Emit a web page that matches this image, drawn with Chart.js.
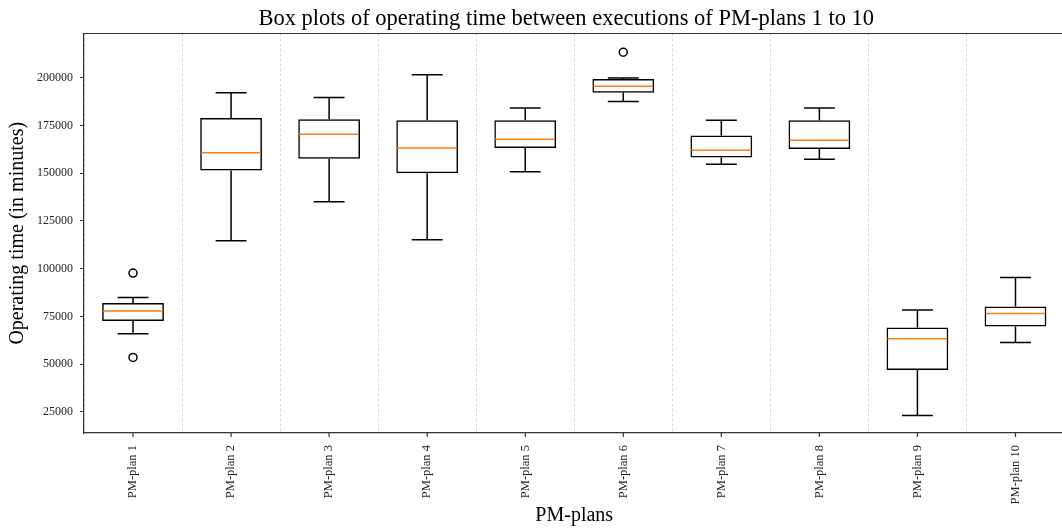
<!DOCTYPE html>
<html>
<head>
<meta charset="utf-8">
<script src="https://cdn.jsdelivr.net/npm/chart.js@4.4.1/dist/chart.umd.min.js"></script>
<style>
	body { margin: 0; overflow: hidden; background: #fff; }
	canvas { display: block; }
</style>
</head>
<body>
<canvas id="boxplot-canvas" width="1070" height="528"></canvas>
<script>
const labels = ["PM-plan 1", "PM-plan 2", "PM-plan 3", "PM-plan 4", "PM-plan 5",
	"PM-plan 6", "PM-plan 7", "PM-plan 8", "PM-plan 9", "PM-plan 10"];

// Five-number summaries per plan (minutes)
const lowerWhisker = [65950, 114590, 134990, 115115, 150680, 187450, 154710, 157320, 23220, 61400];
const firstQuartile = [72600, 151360, 157480, 150000, 163230, 192150, 158160, 162710, 46970, 69770];
const medians = [77820, 160620, 170400, 163230, 167780, 195500, 162030, 167260, 63340, 76570];
const thirdQuartile = [82000, 178920, 178240, 177720, 177720, 199320, 169670, 177720, 69250, 80230];
const upperWhisker = [84940, 192150, 189540, 201570, 184150, 199840, 177720, 184150, 78350, 95400];
const outliers = [[97700, 53560], [], [], [], [], [213280], [], [], [], []];

const yTicks = [25000, 50000, 75000, 100000, 125000, 150000, 175000, 200000];

const chartTitle = "Box plots of operating time between executions of PM-plans 1 to 10";
const serif = "'Liberation Serif', 'Times New Roman', serif";

// Whiskers, caps, medians, tick marks under each box, spines and the title
const boxWhiskers = {
	id: "boxWhiskers",
	afterDatasetsDraw(chart) {
		const ctx = chart.ctx;
		const xScale = chart.scales.x;
		const yScale = chart.scales.y;
		const meta = chart.getDatasetMeta(0);
		ctx.save();
		ctx.lineCap = "butt";
		for (let i = 0; i < labels.length; i++) {
			const bar = meta.data[i];
			const x = bar.x;
			const half = bar.width / 2;
			const cap = bar.width / 4;
			const yLow = yScale.getPixelForValue(lowerWhisker[i]);
			const yQ1 = yScale.getPixelForValue(firstQuartile[i]);
			const yQ3 = yScale.getPixelForValue(thirdQuartile[i]);
			const yHigh = yScale.getPixelForValue(upperWhisker[i]);
			const yMed = yScale.getPixelForValue(medians[i]);

			ctx.strokeStyle = "#000";
			ctx.lineWidth = 1.5;
			ctx.beginPath();
			ctx.moveTo(x, yQ1);
			ctx.lineTo(x, yLow);
			ctx.moveTo(x - cap, yLow);
			ctx.lineTo(x + cap, yLow);
			ctx.moveTo(x, yQ3);
			ctx.lineTo(x, yHigh);
			ctx.moveTo(x - cap, yHigh);
			ctx.lineTo(x + cap, yHigh);
			ctx.stroke();

			ctx.strokeStyle = "#ff7f0e";
			ctx.beginPath();
			ctx.moveTo(x - half + 1, yMed);
			ctx.lineTo(x + half - 1, yMed);
			ctx.stroke();

			// tick mark at the category centre
			const tx = xScale.getPixelForValue(i);
			ctx.strokeStyle = "#333";
			ctx.lineWidth = 1.2;
			ctx.beginPath();
			ctx.moveTo(tx, chart.chartArea.bottom);
			ctx.lineTo(tx, chart.chartArea.bottom + 4);
			ctx.stroke();
		}
		// top and right spines
		const area = chart.chartArea;
		ctx.strokeStyle = "#333";
		ctx.lineWidth = 1.2;
		ctx.beginPath();
		ctx.moveTo(area.left, area.top);
		ctx.lineTo(area.right, area.top);
		ctx.lineTo(area.right, area.bottom);
		ctx.stroke();

		// title centred over the plot area
		ctx.fillStyle = "#000";
		ctx.font = "22.5px " + serif;
		ctx.textAlign = "center";
		ctx.textBaseline = "middle";
		ctx.fillText(chartTitle, (area.left + area.right) / 2 - 8, 19);
		ctx.restore();
	},
};

const outlierPoints = [];
outliers.forEach((list, i) => {
	list.forEach((v) => outlierPoints.push({ x: labels[i], y: v }));
});

new Chart("boxplot-canvas", {
	type: "bar",
	data: {
		labels: labels,
		datasets: [
			{
				data: firstQuartile.map((q, i) => [q, thirdQuartile[i]]),
				backgroundColor: "rgba(0,0,0,0)",
				borderColor: "#000",
				borderWidth: 1.5,
				borderSkipped: false,
				barPercentage: 0.63,
				categoryPercentage: 1,
			},
			{
				type: "line",
				data: outlierPoints,
				showLine: false,
				pointRadius: 4,
				pointBorderWidth: 1.5,
				pointBorderColor: "#000",
				pointBackgroundColor: "rgba(0,0,0,0)",
			},
		],
	},
	options: {
		responsive: false,
		animation: false,
		layout: {
			padding: { left: 0, right: 1, top: 33.5, bottom: 0 },
		},
		plugins: {
			legend: { display: false },
			tooltip: { enabled: false },
		},
		scales: {
			x: {
				offset: true,
				grid: {
					offset: true,
					drawTicks: false,
					color: "rgba(0,0,0,0.18)",
					lineWidth: 0.8,
				},
				border: { color: "#333", width: 1.2, dash: [3, 2] },
				ticks: {
					color: "#222",
					font: { family: serif, size: 12.5 },
					minRotation: 90,
					maxRotation: 90,
					padding: 12,
				},
				title: {
					display: true,
					text: "PM-plans",
					color: "#000",
					font: { family: serif, size: 20 },
					padding: { top: 0, bottom: 0 },
				},
				afterFit: (scale) => {
					scale.height = 95;
				},
			},
			y: {
				min: 14000,
				max: 223100,
				afterBuildTicks: (scale) => {
					scale.ticks = yTicks.map((v) => ({ value: v }));
				},
				grid: {
					drawOnChartArea: false,
					drawTicks: true,
					tickLength: 4,
					tickColor: "#333",
				},
				border: { color: "#333", width: 1.2 },
				ticks: {
					color: "#222",
					font: { family: serif, size: 12 },
					padding: 7,
					callback: (v) => String(v),
				},
				title: {
					display: true,
					text: "Operating time (in minutes)",
					color: "#000",
					font: { family: serif, size: 20 },
					padding: { top: 6, bottom: 4 },
				},
				afterFit: (scale) => {
					scale.width = 84;
				},
			},
		},
	},
	plugins: [boxWhiskers],
});
</script>
</body>
</html>
